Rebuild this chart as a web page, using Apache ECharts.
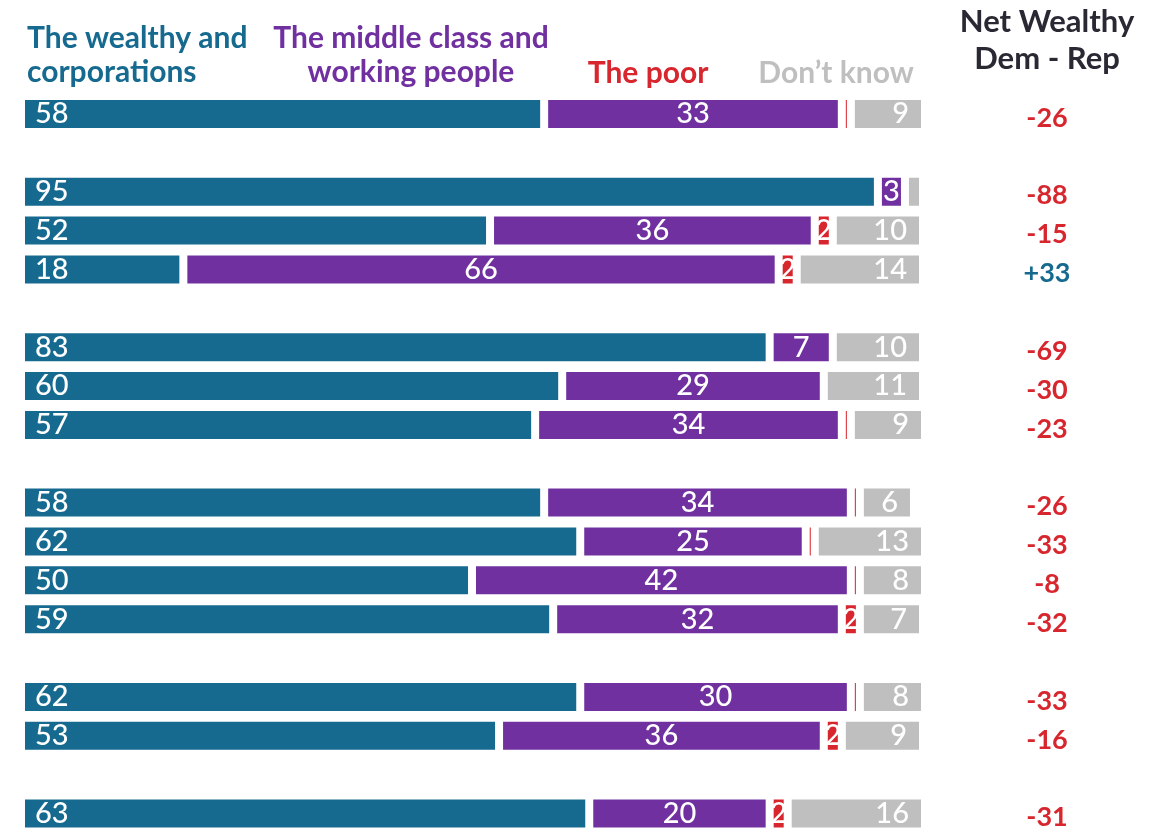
<!DOCTYPE html>
<html>
<head>
<meta charset="utf-8">
<script src="https://cdn.jsdelivr.net/npm/echarts@6/dist/echarts.min.js"></script>
<style>
  html, body { margin: 0; padding: 0; background: #ffffff; }
  #chart { width: 1155px; height: 833px; }
</style>
</head>
<body>
<div id="chart"></div>
<script>
// Rows, top to bottom; groups are separated by one empty slot
const groupSizes = [1, 3, 3, 4, 2, 1];
const wealthy  = [58, 95, 52, 18, 83, 60, 57, 58, 62, 50, 59, 62, 53, 63];
const middle   = [33,  3, 36, 66,  7, 29, 34, 34, 25, 42, 32, 30, 36, 20];
const poor     = [ 1,  0,  2,  2,  0,  0,  1,  1,  1,  1,  2,  1,  2,  2];
const dontKnow = [ 9,  2, 10, 14, 10, 11,  9,  6, 13,  8,  7,  8,  9, 16];
const netWealthy = ['-26', '-88', '-15', '+33', '-69', '-30', '-23',
                    '-26', '-33', '-8', '-32', '-33', '-16', '-31'];

const TEAL = '#166a8f', PURPLE = '#7030a0', RED = '#d7262e', GRAY = '#bfbfbf';
const FONT = 'Lato, "Noto Sans", sans-serif';

// Expand rows into axis slots with blank spacers between groups
const slots = [];
let r = 0;
groupSizes.forEach((n, g) => {
  if (g > 0) slots.push(-1);
  for (let i = 0; i < n; i++) slots.push(r++);
});
const cats = slots.map((s, i) => 'slot' + i);
const pick = arr => slots.map(s => (s < 0 ? '-' : arr[s]));
const netLabels = slots.map(s => (s < 0 ? '' : netWealthy[s]));

const chart = echarts.init(document.getElementById('chart'), null, { renderer: 'canvas' });

// White inner border opens a gap between neighbouring segments
const barBase = {
  type: 'bar',
  stack: 'total',
  barWidth: 36,
  itemStyle: { borderColor: '#ffffff', borderWidth: 4 },
  emphasis: { disabled: true },
  animation: false
};
const labelBase = {
  show: true,
  color: '#ffffff',
  fontFamily: FONT,
  fontSize: 29,
  fontWeight: 500
};

chart.setOption({
  backgroundColor: '#ffffff',
  animation: false,
  grid: { left: 21, width: 902, top: 94.5, height: 741, containLabel: false },
  xAxis: { type: 'value', min: 0, max: 100, show: false },
  yAxis: [
    { type: 'category', data: cats, inverse: true, show: false },
    {
      type: 'category', data: netLabels, inverse: true, position: 'right',
      axisLine: { show: false }, axisTick: { show: false },
      axisLabel: {
        margin: 124, align: 'center', verticalAlign: 'top', lineHeight: 8,
        fontFamily: FONT, fontSize: 27, fontWeight: 700,
        color: v => (String(v).charAt(0) === '+' ? TEAL : RED)
      }
    }
  ],
  series: [
    Object.assign({}, barBase, {
      name: 'The wealthy and corporations', data: pick(wealthy),
      itemStyle: Object.assign({}, barBase.itemStyle, { color: TEAL }),
      label: Object.assign({}, labelBase, { position: 'insideLeft', distance: 14 })
    }),
    Object.assign({}, barBase, {
      name: 'The middle class and working people', data: pick(middle),
      itemStyle: Object.assign({}, barBase.itemStyle, { color: PURPLE }),
      label: Object.assign({}, labelBase, { position: 'inside' })
    }),
    Object.assign({}, barBase, {
      name: 'The poor', data: pick(poor),
      itemStyle: Object.assign({}, barBase.itemStyle, { color: RED }),
      label: Object.assign({}, labelBase, {
        position: 'inside',
        formatter: p => (p.value >= 2 ? String(p.value) : '')
      })
    }),
    Object.assign({}, barBase, {
      name: 'Don\u2019t know', data: pick(dontKnow),
      itemStyle: Object.assign({}, barBase.itemStyle, { color: GRAY }),
      label: Object.assign({}, labelBase, {
        position: 'insideRight', distance: 16,
        formatter: p => (p.value >= 5 ? String(p.value) : '')
      })
    })
  ],
  graphic: [
    { type: 'text', left: 27, top: 21, silent: true,
      style: { text: 'The wealthy and\ncorporations', fill: TEAL, font: '700 30px ' + FONT, lineHeight: 34 } },
    { type: 'text', x: 411, y: 21, silent: true,
      style: { text: 'The middle class and\nworking people', fill: PURPLE, font: '700 30px ' + FONT,
               lineHeight: 34, align: 'center' } },
    { type: 'text', x: 648, y: 56, silent: true,
      style: { text: 'The poor', fill: RED, font: '700 30px ' + FONT, lineHeight: 34, align: 'center' } },
    { type: 'text', x: 836, y: 56, silent: true,
      style: { text: 'Don\u2019t know', fill: GRAY, font: '700 30px ' + FONT, lineHeight: 34, align: 'center' } },
    { type: 'text', x: 1047, y: 3, silent: true,
      style: { text: 'Net Wealthy\nDem - Rep', fill: '#2a2833', font: '700 31px ' + FONT,
               lineHeight: 37, align: 'center' } }
  ]
});
</script>
</body>
</html>
